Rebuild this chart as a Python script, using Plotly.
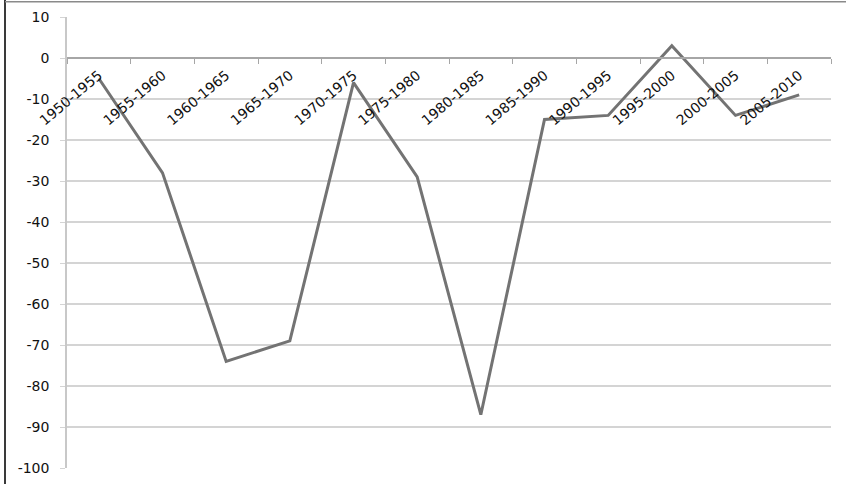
import plotly.graph_objects as go

periods = ['1950-1955', '1955-1960', '1960-1965', '1965-1970', '1970-1975', '1975-1980',
           '1980-1985', '1985-1990', '1990-1995', '1995-2000', '2000-2005', '2005-2010']
values = [-5, -28, -74, -69, -6, -29, -87, -15, -14, 3, -14, -9]

y_ticks = list(range(-100, 11, 10))
y_labels = [str(v) for v in y_ticks]

fig = go.Figure()
fig.add_trace(go.Scatter(x=periods, y=values, mode='lines',
                         line=dict(color='#737373', width=3),
                         showlegend=False, hoverinfo='skip'))

# y=0 sits at this fraction of the plot height
zero_pos = (0 - y_ticks[0]) / (y_ticks[-1] - y_ticks[0])

fig.update_layout(
    width=846, height=484,
    margin=dict(l=67, r=15, t=17, b=16),
    plot_bgcolor='white', paper_bgcolor='white',
    font=dict(family='DejaVu Sans', size=14, color='#111111'),
    xaxis=dict(type='category', anchor='free', position=zero_pos,
               automargin=False,
               showline=True, linecolor='#a6a6a6', linewidth=1.5,
               ticks='outside', ticklen=5, tickcolor='#a6a6a6',
               tickson='boundaries', showgrid=False,
               tickangle=-40, tickfont=dict(size=14),
               ticklabelstandoff=3,
               range=[-0.5, len(periods) - 0.5]),
    yaxis=dict(range=[y_ticks[0], y_ticks[-1]], tickvals=y_ticks,
               ticktext=y_labels, automargin=False,
               showgrid=True, gridcolor='#d4d4d4', gridwidth=1.5,
               showline=True, linecolor='#c8c8c8', linewidth=1.5,
               ticks='outside', ticklen=5, tickcolor='#d4d4d4',
               ticklabelstandoff=8, zeroline=False,
               tickfont=dict(size=14)),
    shapes=[
        dict(type='line', xref='paper', yref='paper',
             x0=-62 / 764, x1=-62 / 764, y0=-0.1, y1=1.04,
             line=dict(color='#3a3a3a', width=2)),
        dict(type='line', xref='paper', yref='paper',
             x0=-62 / 764, x1=1.1, y0=1.034, y1=1.034,
             line=dict(color='#8a8a8a', width=1.5)),
    ],
)

# drop the browser's default page margin so the figure sits at the window corner
fig.write_html('out.html', config={'displayModeBar': False},
               post_script="document.body.style.margin='0';")
